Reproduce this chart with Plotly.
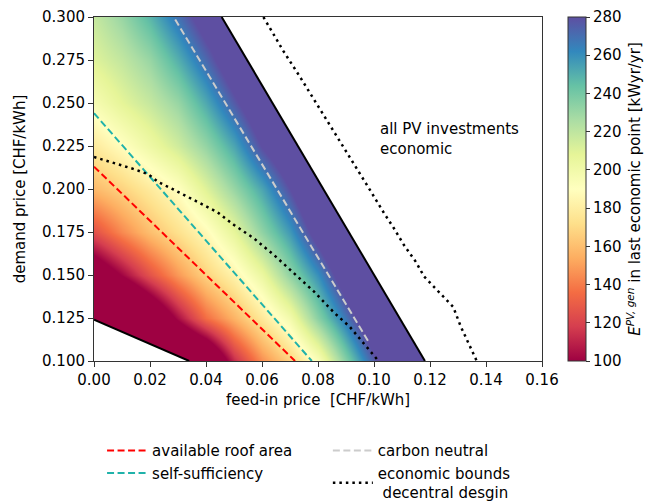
import plotly.graph_objects as go

# ---------------- data ----------------
# heatmap grid (cell centres): feed-in price (x) and demand price (y)
feed_in = [0.00, 0.01, 0.02, 0.03, 0.04, 0.05, 0.06, 0.07, 0.08, 0.09, 0.10, 0.11, 0.12]
demand = [0.100, 0.125, 0.150, 0.175, 0.200, 0.225, 0.250, 0.275, 0.300]
# E^{PV,gen} in last economic point [kWyr/yr] (values outside 100..280 are clipped by the colour scale)
e_pv_gen = [
    [0, 10, 20, 40, 60, 112, 145, 167, 193, 236, 276, 310, 340],      # 0.100
    [20, 35, 68, 104, 136, 156, 177, 199, 235, 268, 304, 340, 370],   # 0.125
    [78, 101, 126, 148, 167, 183, 204, 233, 260, 295, 328, 360, 390], # 0.150
    [125, 144, 160, 173, 187, 207, 233, 257, 290, 320, 350, 380, 410],# 0.175
    [158, 167, 178, 190, 210, 231, 253, 280, 310, 340, 370, 400, 430],# 0.200
    [178, 189, 202, 215, 232, 253, 281, 302, 322, 345, 370, 400, 430],# 0.225
    [196, 208, 218, 231, 252, 276, 300, 320, 340, 360, 380, 400, 420],# 0.250
    [210, 219, 231, 250, 272, 296, 310, 330, 350, 370, 390, 410, 430],# 0.275
    [218, 231, 248, 269, 291, 302, 313, 330, 350, 370, 390, 410, 430],# 0.300
]

# boundaries of the region where some PV is economic
upper_x = [0.0456, 0.1182]
upper_y = [0.300, 0.100]
lower_x = [0.000, 0.034]
lower_y = [0.1241, 0.100]

# constraint lines
roof_x = [0.000, 0.0718]
roof_y = [0.213, 0.100]
self_x = [0.000, 0.0778]
self_y = [0.2441, 0.100]
carbon_x = [0.0290, 0.0985]
carbon_y = [0.2985, 0.110]

# economic bounds decentral design (two dotted curves)
eco1_x = [0.000, 0.007, 0.014, 0.0195, 0.023, 0.0286, 0.0357, 0.044, 0.050, 0.0571,
          0.0643, 0.0714, 0.0786, 0.0857, 0.0914, 0.0965, 0.1016]
eco1_y = [0.2186, 0.2152, 0.2117, 0.2085, 0.2040, 0.1995, 0.1934, 0.1866, 0.1791, 0.1713,
          0.1616, 0.1510, 0.1403, 0.1282, 0.1198, 0.1099, 0.100]
eco2_x = [0.0605, 0.0676, 0.0736, 0.0795, 0.0855, 0.0914, 0.0982, 0.1036, 0.1071, 0.1107,
          0.1150, 0.1179, 0.1212, 0.1250, 0.1283, 0.1310, 0.1343, 0.1367]
eco2_y = [0.300, 0.2803, 0.2651, 0.2497, 0.2341, 0.2186, 0.2004, 0.1859, 0.1772, 0.1674,
          0.1575, 0.1491, 0.1435, 0.1375, 0.1314, 0.1200, 0.1081, 0.100]

x_range = [0.0, 0.16]
y_range = [0.100, 0.300]
x_ticks = [0.00, 0.02, 0.04, 0.06, 0.08, 0.10, 0.12, 0.14, 0.16]
y_ticks = [0.100, 0.125, 0.150, 0.175, 0.200, 0.225, 0.250, 0.275, 0.300]
cb_ticks = [100, 120, 140, 160, 180, 200, 220, 240, 260, 280]

spectral = ['#9e0142', '#d53e4f', '#f46d43', '#fdae61', '#fee08b', '#ffffbf',
            '#e6f598', '#abdda4', '#66c2a5', '#3288bd', '#5e4fa2']
colorscale = [[i / (len(spectral) - 1), c] for i, c in enumerate(spectral)]

FONT = 'DejaVu Sans'
FS = 15

fig = go.Figure()

fig.add_trace(go.Heatmap(
    x=feed_in, y=demand, z=e_pv_gen, zmin=100, zmax=280, zsmooth='best',
    colorscale=colorscale, hoverinfo='skip',
    colorbar=dict(
        thickness=18, len=1, lenmode='fraction', y=0.5, yanchor='middle',
        x=1.058, xanchor='left', xpad=0, ypad=0,
        outlinewidth=1, outlinecolor='#333333',
        ticks='outside', ticklen=4, tickcolor='#333333',
        tickvals=cb_ticks, tickfont=dict(family=FONT, size=FS, color='black'),
        title=dict(text='<i>E</i><sup><i>PV, gen</i></sup> in last economic point [kWyr/yr]',
                   side='right', font=dict(family=FONT, size=FS, color='black')),
    ),
))

# white masks outside the economic band
fig.add_trace(go.Scatter(
    x=upper_x + [x_range[1], x_range[1]], y=upper_y + [y_range[0], y_range[1]],
    fill='toself', fillcolor='white', mode='none', showlegend=False, hoverinfo='skip'))
fig.add_trace(go.Scatter(
    x=lower_x + [x_range[0]], y=lower_y + [y_range[0]],
    fill='toself', fillcolor='white', mode='none', showlegend=False, hoverinfo='skip'))

# boundaries
fig.add_trace(go.Scatter(x=upper_x, y=upper_y, mode='lines', line=dict(color='black', width=2),
                         showlegend=False, hoverinfo='skip'))
fig.add_trace(go.Scatter(x=lower_x, y=lower_y, mode='lines', line=dict(color='black', width=2),
                         showlegend=False, hoverinfo='skip'))

dash_style = '7px,3.5px'
fig.add_trace(go.Scatter(x=roof_x, y=roof_y, mode='lines', name='available roof area',
                         line=dict(color='red', width=2, dash=dash_style), legend='legend'))
fig.add_trace(go.Scatter(x=self_x, y=self_y, mode='lines', name='self-sufficiency',
                         line=dict(color='#20b2aa', width=2, dash=dash_style), legend='legend'))
fig.add_trace(go.Scatter(x=carbon_x, y=carbon_y, mode='lines', name='carbon neutral',
                         line=dict(color='#cccccc', width=2, dash=dash_style), legend='legend2'))
fig.add_trace(go.Scatter(x=eco1_x, y=eco1_y, mode='lines',
                         name='economic bounds<br>&nbsp;decentral desgin',
                         line=dict(color='black', width=2.5, dash='2.5px,4px'),
                         legend='legend2', legendgroup='eco'))
fig.add_trace(go.Scatter(x=eco2_x, y=eco2_y, mode='lines', showlegend=False,
                         line=dict(color='black', width=2.5, dash='2.5px,4px'),
                         legend='legend2', legendgroup='eco'))

fig.add_annotation(x=0.1015, y=0.2288, xref='x', yref='y', text='all PV investments<br>economic',
                   showarrow=False, xanchor='left', yanchor='middle', align='left',
                   font=dict(family=FONT, size=FS, color='black'))

axis_common = dict(showgrid=False, zeroline=False, showline=True, mirror=True, automargin=False,
                   linecolor='#333333', linewidth=1, ticks='outside', ticklen=5,
                   tickcolor='#333333', tickfont=dict(family=FONT, size=FS, color='black'))

fig.update_layout(
    width=662, height=502,
    margin=dict(l=94, r=120, t=17, b=141, autoexpand=False),
    paper_bgcolor='white', plot_bgcolor='white',
    font=dict(family=FONT, size=FS, color='black'),
    xaxis=dict(range=x_range, tickvals=x_ticks, tickformat='.2f',
               title=dict(text='feed-in price&nbsp;&nbsp;[CHF/kWh]', standoff=6,
                          font=dict(family=FONT, size=FS, color='black')),
               **axis_common),
    yaxis=dict(range=y_range, tickvals=y_ticks, tickformat='.3f',
               title=dict(text='demand price [CHF/kWh]', standoff=12,
                          font=dict(family=FONT, size=FS, color='black')),
               **axis_common),
    legend=dict(x=0.018, y=-0.213, xanchor='left', yanchor='top', orientation='v',
                itemwidth=40,
                bgcolor='rgba(0,0,0,0)', font=dict(family=FONT, size=FS, color='black'),
                tracegroupgap=0),
    legend2=dict(x=0.522, y=-0.213, xanchor='left', yanchor='top', orientation='v',
                 itemwidth=40,
                 bgcolor='rgba(0,0,0,0)', font=dict(family=FONT, size=FS, color='black'),
                 tracegroupgap=0),
)

fig.write_html('out.html', config={'displayModeBar': False},
               post_script="document.body.style.margin='0';document.body.style.padding='0';")
